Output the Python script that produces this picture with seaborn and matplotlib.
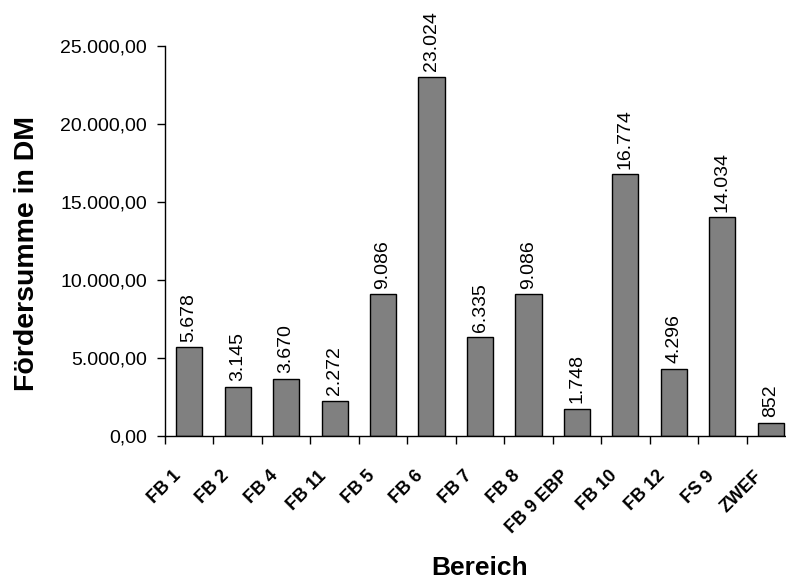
import matplotlib
matplotlib.use("Agg")
import matplotlib.pyplot as plt
import matplotlib.transforms as mtransforms
from matplotlib.ticker import FixedLocator, FuncFormatter
import seaborn as sns
import pandas as pd
import numpy as np

bereiche = ["FB 1", "FB 2", "FB 4", "FB 11", "FB 5", "FB 6", "FB 7", "FB 8",
            "FB 9 EBP", "FB 10", "FB 12", "FS 9", "ZWEF"]
foerdersumme = [5678, 3145, 3670, 2272, 9086, 23024, 6335, 9086,
                1748, 16774, 4296, 14034, 852]
y_ticks = [0, 5000, 10000, 15000, 20000, 25000]

sns.set_style("white")
plt.rcParams["font.family"] = ["Liberation Sans", "DejaVu Sans"]
plt.rcParams.update({
    "text.color": "black",
    "axes.labelcolor": "black",
    "xtick.color": "black",
    "ytick.color": "black",
})

df = pd.DataFrame({"Bereich": bereiche, "Summe": foerdersumme})

fig = plt.figure(figsize=(7.86, 5.85), dpi=100)
ax = fig.add_axes([0.2099, 0.2547, 0.8016, 0.6667])

sns.barplot(data=df, x="Bereich", y="Summe", color="#808080",
            edgecolor="black", linewidth=1.0, width=0.54, saturation=1,
            ax=ax)


def de_int(v):
    return f"{int(v):,}".replace(",", ".")


def de_dec(v, pos=None):
    s = f"{v:,.2f}"
    return s.replace(",", "X").replace(".", ",").replace("X", ".")


ax.bar_label(ax.containers[0], labels=[de_int(v) for v in foerdersumme],
             rotation=90, padding=4, fontsize=14)

ax.set_ylim(0, 25000)
ax.set_yticks(y_ticks)
ax.yaxis.set_major_formatter(FuncFormatter(de_dec))
ax.tick_params(axis="y", direction="out", length=6, width=1, labelsize=14,
               left=True, pad=7)

n = len(bereiche)
ax.set_xlim(-0.5, n - 0.5)
ax.xaxis.set_minor_locator(FixedLocator(np.arange(-0.5, n, 1.0)))
ax.tick_params(axis="x", which="major", length=0, pad=27)
ax.tick_params(axis="x", which="minor", direction="out", length=6, width=1,
               bottom=True)
shift = mtransforms.ScaledTranslation(-11 / 100, 0, fig.dpi_scale_trans)
for lbl in ax.get_xticklabels():
    lbl.set_rotation(45)
    lbl.set_ha("right")
    lbl.set_va("center")
    lbl.set_rotation_mode("anchor")
    lbl.set_fontweight("bold")
    lbl.set_fontsize(13)
    lbl.set_transform(lbl.get_transform() + shift)

for side in ("top", "right"):
    ax.spines[side].set_visible(False)
for side in ("left", "bottom"):
    ax.spines[side].set_color("black")
    ax.spines[side].set_linewidth(1)

ax.set_ylabel("Fördersumme in DM", fontsize=20.5, fontweight="bold")
ax.set_xlabel("Bereich", fontsize=19, fontweight="bold")
ax.yaxis.set_label_coords(-0.198, 0.469)
ax.xaxis.set_label_coords(0.5, -0.308)

fig.savefig("out.png", dpi=100)
